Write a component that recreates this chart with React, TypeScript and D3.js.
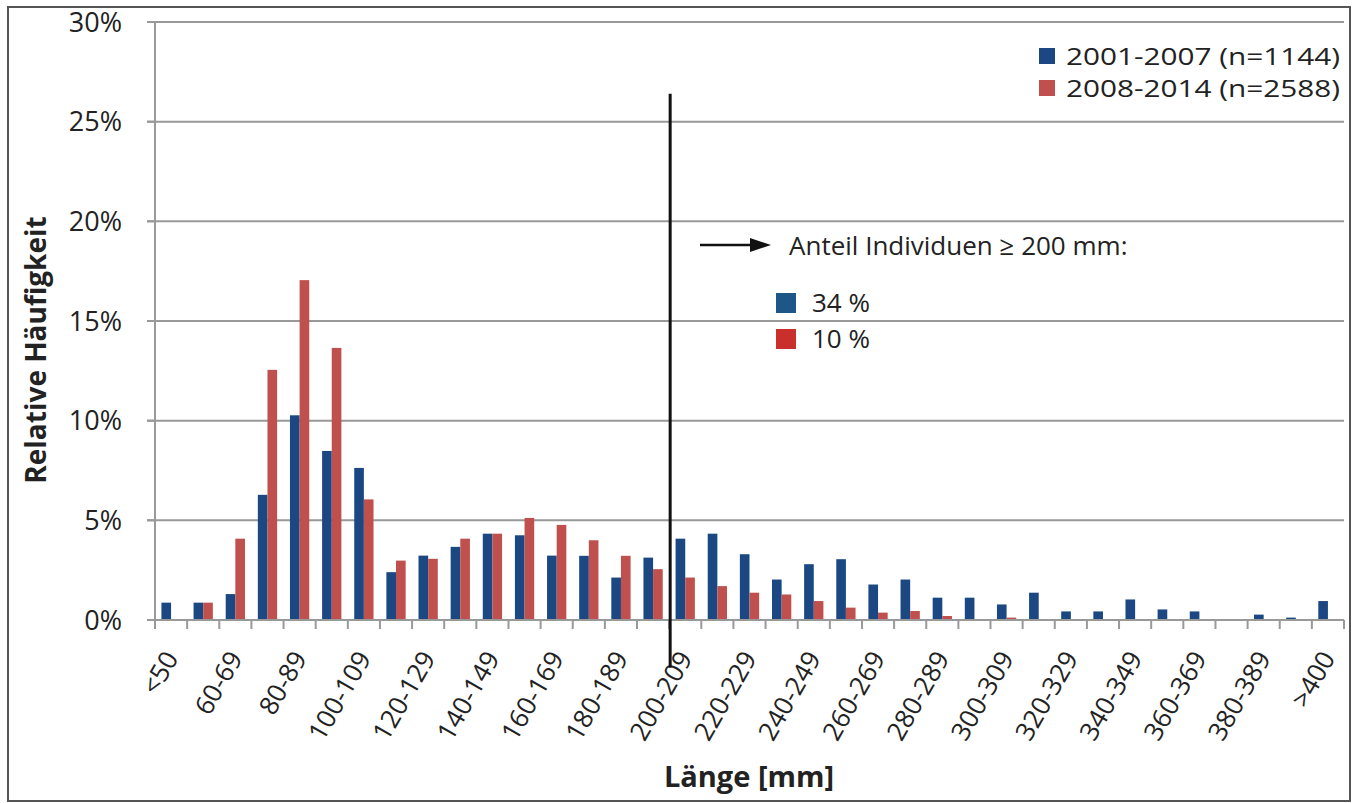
import * as d3 from "d3";

const W = 1354, H = 803;
const M = { left: 155, right: 1344, top: 22, bottom: 620 };
const FONT = "'Open Sans', sans-serif";

const categories = [
  "<50", "50-59", "60-69", "70-79", "80-89", "90-99", "100-109", "110-119", "120-129", "130-139",
  "140-149", "150-159", "160-169", "170-179", "180-189", "190-199", "200-209", "210-219", "220-229",
  "230-239", "240-249", "250-259", "260-269", "270-279", "280-289", "290-299", "300-309", "310-319",
  "320-329", "330-339", "340-349", "350-359", "360-369", "370-379", "380-389", "390-399", ">400",
];

// relative frequency in %
const early = [
  0.87, 0.87, 1.3, 6.28, 10.27, 8.48, 7.63, 2.4, 3.23, 3.67, 4.33, 4.25, 3.23, 3.22, 2.13, 3.13,
  4.08, 4.33, 3.3, 2.03, 2.8, 3.05, 1.78, 2.03, 1.12, 1.12, 0.78, 1.37, 0.43, 0.43, 1.03, 0.53,
  0.43, 0, 0.27, 0.12, 0.95,
];
const late = [
  0, 0.87, 4.08, 12.55, 17.05, 13.65, 6.05, 2.98, 3.07, 4.08, 4.33, 5.12, 4.77, 4.0, 3.22, 2.55,
  2.13, 1.7, 1.37, 1.28, 0.95, 0.62, 0.37, 0.45, 0.2, 0, 0.12, 0, 0, 0, 0, 0, 0, 0, 0, 0, 0,
];

const seriesNames = ["2001-2007 (n=1144)", "2008-2014 (n=2588)"];
const seriesColors = ["#1b4882", "#c0504d"];
const yTicks = [0, 5, 10, 15, 20, 25, 30];
const shareLabels = ["34 %", "10 %"];
const shareColors = ["#1f5688", "#c9302c"];
const threshold = "200-209";

export default function App() {
  const x = d3.scaleBand<string>().domain(categories).range([M.left, M.right]).padding(0);
  const inner = d3.scaleBand<number>().domain([0, 1]).range([x.bandwidth() * 0.2, x.bandwidth() * 0.8]);
  const y = d3.scaleLinear([0, 30], [M.bottom, M.top]);
  const labelled = categories.filter((_, i) => i % 2 === 0);
  const boundaries = d3.range(categories.length + 1).map((i) => M.left + i * x.bandwidth());
  const lineX = (x(threshold) ?? 0) + 1;

  return (
    <div style={{ position: "absolute", left: 0, top: 0 }}>
      <svg width={W} height={H} style={{ display: "block", background: "#fff", fontFamily: FONT }}>
        <rect x={8} y={7} width={1342} height={794} fill="none" stroke="#555" strokeWidth={2} />

        {/* grid + y ticks */}
        {yTicks.map((t) => (
          <g key={t}>
            {t > 0 && <line x1={M.left - 8} x2={M.right} y1={y(t)} y2={y(t)} stroke="#999" strokeWidth={2} />}
            <line x1={M.left - 8} x2={M.left} y1={y(t)} y2={y(t)} stroke="#999" strokeWidth={2} />
            <text x={122} y={y(t)} dy="0.36em" textAnchor="end" fontSize={27} fill="#222">
              {t}%
            </text>
          </g>
        ))}
        <line x1={M.left} x2={M.left} y1={M.top} y2={M.bottom} stroke="#999" strokeWidth={2} />

        {/* bars */}
        {categories.map((c, i) => (
          <g key={c} transform={`translate(${x(c)},0)`}>
            {[early[i], late[i]].map((v, s) =>
              v > 0 ? (
                <rect key={s} x={inner(s)} y={y(v)} width={inner.bandwidth()} height={y(0) - y(v)}
                  fill={seriesColors[s]} />
              ) : null
            )}
          </g>
        ))}

        {/* x axis */}
        <line x1={M.left} x2={M.right} y1={M.bottom} y2={M.bottom} stroke="#999" strokeWidth={2} />
        {boundaries.map((b, i) => (
          <line key={i} x1={b} x2={b} y1={M.bottom} y2={M.bottom + 9} stroke="#999" strokeWidth={2} />
        ))}
        {labelled.map((c) => {
          const px = (x(c) ?? 0) + x.bandwidth() / 2 + 8;
          return (
            <text key={c} transform={`translate(${px},658) rotate(-60)`} textAnchor="end" fontSize={26} fill="#222">
              {c}
            </text>
          );
        })}

        {/* threshold */}
        <line x1={lineX} x2={lineX} y1={y(26.4)} y2={y(-2.4)} stroke="#111" strokeWidth={3} />

        {/* titles */}
        <text transform="translate(46,350) rotate(-90)" textAnchor="middle" fontSize={28} fontWeight={700} fill="#222">
          Relative Häufigkeit
        </text>
        <text x={749} y={787} textAnchor="middle" fontSize={29} fontWeight={700} fill="#222">
          Länge [mm]
        </text>

        {/* legend */}
        {seriesNames.map((n, i) => (
          <g key={n}>
            <rect x={1039} y={48 + i * 32} width={16} height={16} fill={seriesColors[i]} />
            <text x={1066} y={65 + i * 32} fontSize={23} textLength={274} lengthAdjust="spacingAndGlyphs" fill="#222">
              {n}
            </text>
          </g>
        ))}

        {/* annotation */}
        <line x1={700} x2={755} y1={245} y2={245} stroke="#111" strokeWidth={2.5} />
        <path d="M750,238 L771,245 L750,252 Z" fill="#111" />
        <text x={789} y={255} fontSize={26} fill="#222">Anteil Individuen ≥ 200 mm:</text>
        {shareLabels.map((s, i) => (
          <g key={s} transform={`translate(776,${293 + i * 36})`}>
            <rect width={20} height={20} fill={shareColors[i]} />
            <text x={36} y={19} fontSize={26} fill="#222">{s}</text>
          </g>
        ))}
      </svg>
    </div>
  );
}
